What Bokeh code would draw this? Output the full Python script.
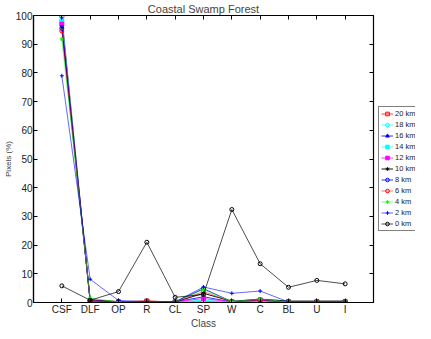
from bokeh.plotting import figure
from bokeh.layouts import row
from bokeh.models import (FixedTicker, LinearAxis, Range1d, Legend, LegendItem,
                          CustomJSTickFormatter)
from bokeh.embed import file_html
from bokeh.resources import INLINE

classes = ["CSF", "DLF", "OP", "R", "CL", "SP", "W", "C", "BL", "U", "I"]
series_names = ["20 km", "18 km", "16 km", "14 km", "12 km", "10 km",
                "8 km", "6 km", "4 km", "2 km", "0 km"]

km20 = [100.0, 0.3, 0.2, 0.5, 0.2, 0.3, 0.2, 0.5, 0.2, 0.2, 0.2]
km18 = [99.3, 0.4, 0.2, 0.3, 0.2, 0.5, 0.2, 0.6, 0.2, 0.2, 0.2]
km16 = [98.5, 0.5, 0.2, 0.3, 0.2, 2.0, 0.2, 0.7, 0.2, 0.2, 0.2]
km14 = [98.0, 0.5, 0.2, 0.3, 0.2, 0.8, 0.2, 0.7, 0.2, 0.2, 0.2]
km12 = [97.0, 0.6, 0.2, 0.4, 0.2, 1.4, 0.2, 0.8, 0.2, 0.2, 0.2]
km10 = [96.0, 1.0, 0.3, 0.4, 0.2, 3.2, 0.4, 1.2, 0.5, 0.5, 0.5]
km8 = [95.5, 0.6, 0.3, 0.3, 0.2, 4.8, 0.3, 0.9, 0.2, 0.2, 0.2]
km6 = [94.6, 0.6, 0.3, 0.5, 0.2, 3.8, 0.3, 0.8, 0.2, 0.2, 0.2]
km4 = [91.8, 1.5, 0.2, 0.3, 0.2, 4.5, 0.3, 1.2, 0.2, 0.2, 0.2]
km2 = [79.0, 8.1, 0.7, 0.3, 0.2, 5.4, 3.2, 4.0, 0.2, 0.2, 0.2]
km0 = [5.8, 0.8, 3.8, 21.0, 1.8, 2.8, 32.4, 13.5, 5.3, 7.7, 6.5]

series = [km20, km18, km16, km14, km12, km10, km8, km6, km4, km2, km0]
colors = ["#ff0000", "#00ffff", "#0000ff", "#00ffff", "#ff00ff", "#000000",
          "#0000ff", "#ff0000", "#00ff00", "#0000ff", "#000000"]
line_alphas = [0.75, 0.75, 0.8, 0.75, 0.8, 0.9, 0.8, 0.55, 0.55, 0.6, 0.7]
markers = ["square", "circle", "triangle", "square", "square", "asterisk",
           "circle", "circle", "asterisk", "cross", "circle"]
fills = [False, False, True, True, True, True, False, False, True, True, False]

FONT = "Liberation Sans"
x = list(range(1, len(classes) + 1))
H = 331

p = figure(width=378, height=H, output_backend="svg", toolbar_location=None,
           x_range=Range1d(0, 12), y_range=Range1d(0, 100),
           title="Coastal Swamp Forest",
           min_border_left=28, min_border_right=5, min_border_top=0, min_border_bottom=0)
p.title.text_font = FONT
p.title.text_font_size = "11px"
p.title.text_font_style = "normal"
p.title.align = "center"
p.title.standoff = 1
p.xgrid.visible = False
p.ygrid.visible = False
p.outline_line_color = "black"
p.outline_line_width = 1.2
p.background_fill_color = "white"
p.border_fill_color = "white"

for ys, c, la, m, f in zip(series, colors, line_alphas, markers, fills):
    p.line(x, ys, line_color=c, line_width=1, line_alpha=la)
    p.scatter(x, ys, marker=m, size=4, line_color=c, line_width=1,
              fill_color=c if f else "white", fill_alpha=1.0 if f else 0.0)

xa = p.xaxis[0]
xa.ticker = FixedTicker(ticks=x)
xa.major_label_overrides = {i: c for i, c in zip(x, classes)}
xa.axis_label = "Class"
ya = p.yaxis[0]
ya.ticker = FixedTicker(ticks=list(range(0, 101, 10)))
ya.axis_label = "Pixels (%)"
for ax in (xa, ya):
    ax.axis_line_color = "black"
    ax.axis_line_width = 1.2
    ax.major_tick_in = 4
    ax.major_tick_out = 0
    ax.minor_tick_line_color = None
    ax.major_label_text_font = FONT
    ax.major_label_text_font_size = "10px"
    ax.major_label_text_color = "#222222"
    ax.major_label_text_line_height = 1.0
    ax.axis_label_text_font = FONT
    ax.axis_label_text_font_style = "normal"
    ax.axis_label_text_line_height = 1.0
    ax.major_label_standoff = 1
    ax.axis_label_standoff = 0
xa.axis_label_text_font_size = "10px"
ya.axis_label_text_font_size = "8px"

blank = CustomJSTickFormatter(code="return '';")
top = LinearAxis(ticker=FixedTicker(ticks=x), formatter=blank,
                 major_tick_in=4, major_tick_out=0, minor_tick_line_color=None,
                 axis_line_color="black", major_label_standoff=0)
right = LinearAxis(ticker=FixedTicker(ticks=list(range(0, 101, 10))), formatter=blank,
                   major_tick_in=4, major_tick_out=0, minor_tick_line_color=None,
                   axis_line_color="black", major_label_standoff=0)
p.add_layout(top, "above")
p.add_layout(right, "right")

# Legend panel as a separate, axis-less figure
lg = figure(width=37, height=H, output_backend="svg", toolbar_location=None,
            x_range=Range1d(0, 1), y_range=Range1d(0, 1),
            min_border=0, outline_line_color=None)
lg.xaxis.visible = False
lg.yaxis.visible = False
lg.xgrid.visible = False
lg.ygrid.visible = False
nan = float("nan")
items = []
for name, c, la, m, f in zip(series_names, colors, line_alphas, markers, fills):
    lr = lg.line([nan], [nan], line_color=c, line_width=1, line_alpha=la)
    sr = lg.scatter([nan], [nan], marker=m, size=4, line_color=c, line_width=1,
                    fill_color=c if f else "white", fill_alpha=1.0 if f else 0.0)
    items.append(LegendItem(label=name, renderers=[lr, sr]))
legend = Legend(items=items, location=(0, 71),
                label_text_font=FONT, label_text_font_size="7.5px",
                label_text_color="#222222",
                glyph_width=12, glyph_height=9, label_height=9, label_standoff=2,
                spacing=2, padding=2, margin=0,
                border_line_color="black", border_line_width=1.2,
                background_fill_color="white", background_fill_alpha=1.0)
lg.add_layout(legend, "center")

open("out.html", "w").write(file_html(row(p, lg, spacing=0), INLINE))
